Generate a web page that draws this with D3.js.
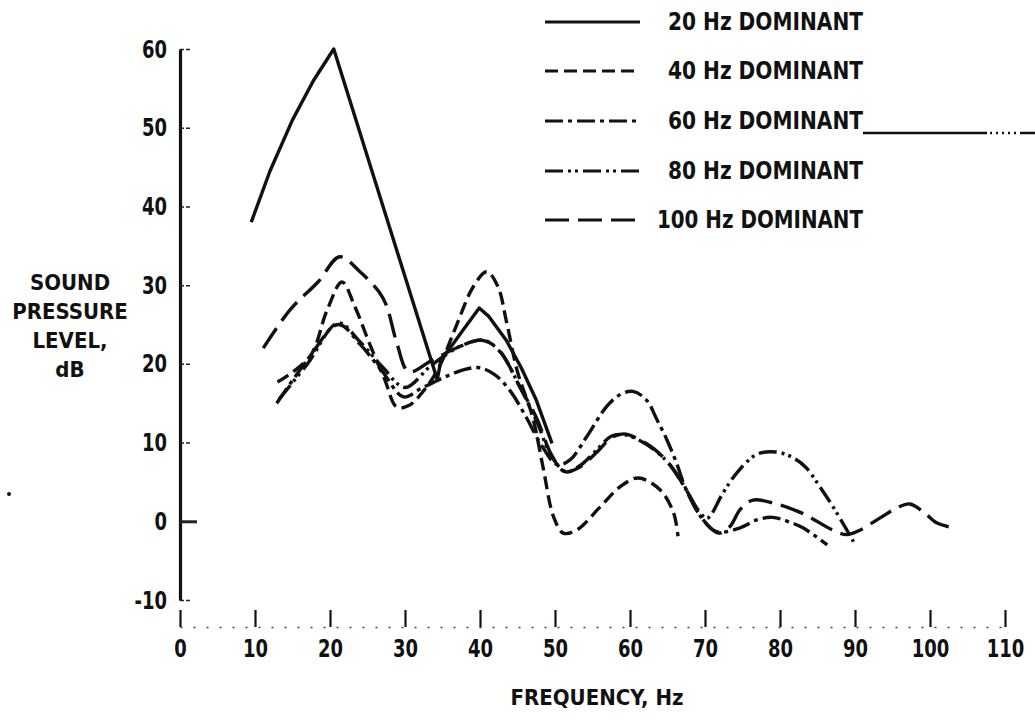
<!DOCTYPE html>
<html>
<head>
<meta charset="utf-8">
<script src="https://cdn.jsdelivr.net/npm/d3@7"></script>
<style>
  body { margin: 0; background: #fff; }
  svg text { font-family: "DejaVu Sans Condensed", "DejaVu Sans", sans-serif; font-weight: bold; fill: #111; }
</style>
</head>
<body>
<div id="chart"></div>
<script>
// Series names (legend order)
var seriesNames = ["20 Hz DOMINANT", "40 Hz DOMINANT", "60 Hz DOMINANT", "80 Hz DOMINANT", "100 Hz DOMINANT"];

// Frequency (Hz) / sound pressure level (dB)
var hz20 = [9.5, 12, 15, 17.8, 20.5, 34.3, 34.8, 36.3, 37.6, 39.9, 41.2, 43.5, 45.5, 47.5, 49.6];
var db20 = [38, 44.5, 51, 56, 60, 18, 20.5, 22.4, 24.1, 27.1, 26, 23, 19.5, 15.4, 9.9];

var hz40 = [13, 17.3, 19.6, 21.6, 23.3, 25.3, 27.3, 28.9, 30.5, 32.5, 34.5, 36.7, 39.1, 40.9, 42.4, 43.5, 45, 47, 48.4, 49.8, 51.1, 52.9, 56, 58.7, 61.1, 64, 65.8, 66.4];
var db40 = [17.7, 20.9, 26.8, 30.4, 27.3, 22.5, 18, 14.5, 14.7, 16.6, 19.5, 24.5, 29.8, 31.7, 29.8, 25.5, 19, 13.3, 6.9, 0.6, -1.5, -1.1, 1.8, 4.4, 5.5, 4, 1.1, -1.9];

var hz60 = [12.9, 17, 21.1, 24, 27, 29.8, 32, 35, 38, 40, 42, 44, 46, 48.3, 50.3, 52, 54.2, 56.9, 58.7, 60.4, 62.2, 63.6, 64.9, 66.2, 67.5, 69.5, 71.5, 74.5, 77, 79, 81, 83, 86.3];
var db60 = [15, 20.5, 25, 22.5, 19, 15.8, 16.8, 18.2, 19.3, 19.5, 18.6, 16.6, 13.5, 9.5, 7.2, 7.8, 10.7, 14.6, 16.1, 16.5, 15.4, 12.9, 10.4, 7.4, 4, 0.5, -1.3, -0.9, 0.2, 0.5, 0, -0.8, -3];

var hz80 = [13.2, 17, 21.1, 24, 27, 30, 33.5, 37.3, 40.5, 42.7, 45.3, 47.6, 49.5, 51.5, 53.5, 55.5, 57.5, 59.2, 61, 63.2, 65.3, 67.5, 69.2, 70.3, 72.4, 74.2, 76.9, 79.5, 81.7, 83.5, 85.3, 87.1, 88.9, 89.8];
var db80 = [15.5, 20, 25.2, 22.8, 19.6, 17, 19.8, 22.2, 23, 21.5, 17.1, 12.6, 8.3, 6.3, 7.2, 9, 10.8, 11, 10.4, 9.1, 7.2, 4, 1.3, 0.4, 3.6, 6.1, 8.5, 8.8, 8.1, 6.8, 4.4, 1.8, -1.1, -2.6];

var hz100 = [11.1, 14.7, 18.4, 21.3, 24, 26.5, 27.5, 28.9, 30.5, 33.5, 37.3, 40.2, 42.5, 45.3, 47.6, 49.5, 51.3, 53.3, 55.5, 57.5, 59.2, 61, 63.2, 65.3, 67.5, 69.5, 71.8, 73.3, 74.7, 76.4, 79.5, 83, 87, 88.9, 90.7, 93.3, 95.6, 97.3, 99.1, 100.9, 102.9];
var db100 = [22, 26.9, 30.4, 33.6, 31.7, 29.2, 27.5, 22.7, 19, 20.4, 22.2, 23, 21.8, 17.1, 13, 8.5, 6.3, 6.9, 8.7, 10.6, 11.1, 10.5, 9.2, 7.2, 4, 0.5, -1.5, -0.7, 1.5, 2.7, 2.2, 1, -1.1, -1.7, -1.1, 0.4, 1.7, 2.2, 1.2, -0.2, -0.8];

var xTicks = [0, 10, 20, 30, 40, 50, 60, 70, 80, 90, 100, 110];
var yTicks = [-10, 0, 10, 20, 30, 40, 50, 60];

var width = 1035;
var height = 721;

// line styles per series
var dashes = [null, "13,6", "18,5,4,5", "18,5,3,4,3,5", "24,9"];
// the 20 Hz trace is drawn with straight strokes, the rest are smooth
var curves = [d3.curveLinear, d3.curveCatmullRom.alpha(0.5), d3.curveCatmullRom.alpha(0.5),
              d3.curveCatmullRom.alpha(0.5), d3.curveCatmullRom.alpha(0.5)];

var seriesHz = [hz20, hz40, hz60, hz80, hz100];
var seriesDb = [db20, db40, db60, db80, db100];

var x = d3.scaleLinear().domain([0, 110]).range([180, 1005]);
var y = d3.scaleLinear().domain([-10, 60]).range([600, 49]);

var squeeze = 0.8; // tick digits are tall and narrow

var svg = d3.select("#chart").append("svg")
    .attr("width", width)
    .attr("height", height)
    .style("background", "#fff");

// y axis
var yAxis = d3.axisLeft(y)
    .tickValues(yTicks)
    .tickSizeInner(-10)
    .tickSizeOuter(0)
    .tickPadding(13)
    .tickFormat(function(d) { return String(d); });

var gy = svg.append("g")
    .attr("transform", "translate(180,0)")
    .call(yAxis);

gy.select(".domain")
    .attr("stroke", "#111")
    .attr("stroke-width", 3.2);

gy.selectAll(".tick line")
    .attr("stroke", "#222")
    .attr("stroke-width", function(d) { return d === 0 ? 3 : 1.5; })
    .attr("stroke-dasharray", function(d) { return d === 0 ? null : "4,2"; })
    .attr("x2", function(d) { return d === 0 ? 17 : 11; });

gy.selectAll(".tick text")
    .style("font-size", "25px")
    .attr("x", -13 / squeeze)
    .attr("transform", "scale(" + squeeze + ",1)")
    .attr("fill", "#111");

// x axis, sits a little below the y axis foot
var xAxis = d3.axisBottom(x)
    .tickValues(xTicks)
    .tickSizeInner(-17)
    .tickSizeOuter(0)
    .tickPadding(12);

var gx = svg.append("g")
    .attr("transform", "translate(0,627)")
    .call(xAxis);

gx.select(".domain")
    .attr("stroke", "#444")
    .attr("stroke-width", 1.5)
    .attr("stroke-dasharray", "2,11");

gx.selectAll(".tick line")
    .attr("stroke", "#111")
    .attr("stroke-width", 2.2);

gx.selectAll(".tick text")
    .style("font-size", "25px")
    .attr("transform", "scale(" + squeeze + ",1)")
    .attr("fill", "#111");

// axis titles
svg.append("text")
    .attr("x", 597)
    .attr("y", 697)
    .attr("text-anchor", "middle")
    .attr("dominant-baseline", "central")
    .style("font-size", "22px")
    .text("FREQUENCY, Hz");

var yTitle = ["SOUND", "PRESSURE", "LEVEL,", "dB"];
svg.selectAll(".ytitle")
    .data(yTitle)
  .enter().append("text")
    .attr("class", "ytitle")
    .attr("x", 70)
    .attr("y", function(d, i) { return 282 + i * 29; })
    .attr("text-anchor", "middle")
    .attr("dominant-baseline", "central")
    .style("font-size", "22px")
    .text(function(d) { return d; });

// curves
seriesNames.forEach(function(name, i) {
  var line = d3.line()
      .x(function(d) { return x(d[0]); })
      .y(function(d) { return y(d[1]); })
      .curve(curves[i]);
  var pts = d3.zip(seriesHz[i], seriesDb[i]);
  svg.append("path")
      .datum(pts)
      .attr("d", line)
      .attr("fill", "none")
      .attr("stroke", "#111")
      .attr("stroke-width", 3.4)
      .attr("stroke-linejoin", "round")
      .attr("stroke-dasharray", dashes[i]);
});

// legend
var legendY = [22, 71, 121, 171, 220];
var legend = svg.selectAll(".legend")
    .data(seriesNames)
  .enter().append("g")
    .attr("class", "legend")
    .attr("transform", function(d, i) { return "translate(0," + legendY[i] + ")"; });

legend.append("line")
    .attr("x1", 545)
    .attr("x2", 640)
    .attr("stroke", "#111")
    .attr("stroke-width", 3.2)
    .attr("stroke-dasharray", function(d, i) { return dashes[i]; });

legend.append("text")
    .attr("x", function(d, i) { return i === 4 ? 657 : 668; })
    .attr("dominant-baseline", "central")
    .style("font-size", "24px")
    .attr("textLength", function(d, i) { return i === 4 ? 206 : 195; })
    .attr("lengthAdjust", "spacingAndGlyphs")
    .text(function(d) { return d; });

// stray scan line running off the 60 Hz legend entry
svg.append("line")
    .attr("x1", 863).attr("x2", 987)
    .attr("y1", 133).attr("y2", 133)
    .attr("stroke", "#111").attr("stroke-width", 2.5);
svg.append("line")
    .attr("x1", 990).attr("x2", 1020)
    .attr("y1", 133).attr("y2", 133)
    .attr("stroke", "#111").attr("stroke-width", 2.5)
    .attr("stroke-dasharray", "2,4");
svg.append("line")
    .attr("x1", 1020).attr("x2", 1035)
    .attr("y1", 133).attr("y2", 133)
    .attr("stroke", "#111").attr("stroke-width", 2.5);

// speck at left margin
svg.append("circle")
    .attr("cx", 9).attr("cy", 494).attr("r", 2)
    .attr("fill", "#111");
</script>
</body>
</html>
